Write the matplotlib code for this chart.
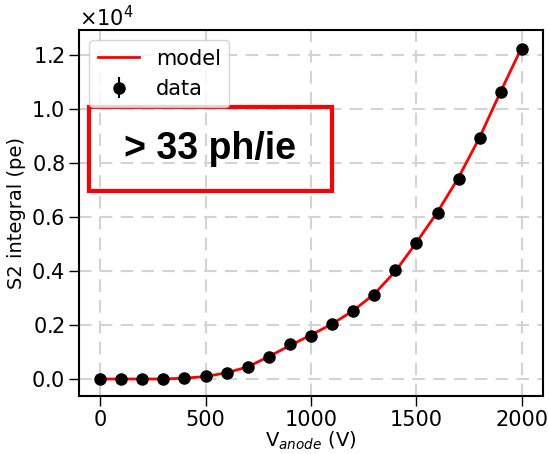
#!/usr/bin/env python3

from matplotlib import pyplot as plt
from matplotlib.patches import Rectangle
from matplotlib.ticker import ScalarFormatter
import numpy as np

# anode voltage (V) and S2 integral (pe)
v_anode = [0, 100, 200, 300, 400, 500, 600, 700, 800, 900, 1000,
           1100, 1200, 1300, 1400, 1500, 1600, 1700, 1800, 1900, 2000]
s2_data = [0, 0, 0, 0, 20, 100, 230, 440, 830, 1300, 1610,
           2030, 2520, 3130, 4030, 5050, 6170, 7420, 8950, 10630, 12220]
s2_err  = [10, 10, 10, 10, 10, 15, 20, 20, 25, 30, 30,
           35, 40, 40, 50, 60, 60, 70, 80, 90, 100]
s2_model = [0, 0, 0, 0, 30, 90, 230, 450, 830, 1240, 1630,
            2040, 2530, 3150, 3990, 5060, 6190, 7470, 8960, 10660, 12300]

fig = plt.figure(figsize=(5.49, 4.54), dpi=100)
ax = fig.add_axes([0.144, 0.128, 0.845, 0.806])

ax.plot(v_anode, s2_model, color='red', lw=2, label='model', zorder=3)
ax.errorbar(v_anode, s2_data, yerr=s2_err, fmt='o', color='black', ms=8,
            label='data', zorder=4)

ax.grid(True, ls=(0, (6, 4)), color='lightgray', lw=1.5)
ax.set_xlabel('V$_{anode}$ (V)', fontsize=14, labelpad=0)
ax.set_ylabel('S2 integral (pe)', fontsize=14)
ax.tick_params(labelsize=15, direction='out', length=7, width=1, pad=3)
for s in ax.spines.values():
    s.set_linewidth(1.5)

fmt = ScalarFormatter(useMathText=True)
fmt.set_powerlimits((0, 0))
ax.yaxis.set_major_formatter(fmt)
ax.yaxis.get_offset_text().set_fontsize(15)
ax.set_yticks([0, 2000, 4000, 6000, 8000, 10000, 12000])

ax.legend(loc='upper left', fontsize=15, framealpha=0.8)

ax.add_patch(Rectangle((0.022, 0.56), 0.523, 0.23, transform=ax.transAxes,
                       fill=False, ec='red', lw=3, zorder=5))
ax.text(0.283, 0.675, '> 33 ph/ie', transform=ax.transAxes, ha='center',
        va='center', fontsize=27, fontweight='bold', family='Liberation Sans')

plt.savefig('out.png')
